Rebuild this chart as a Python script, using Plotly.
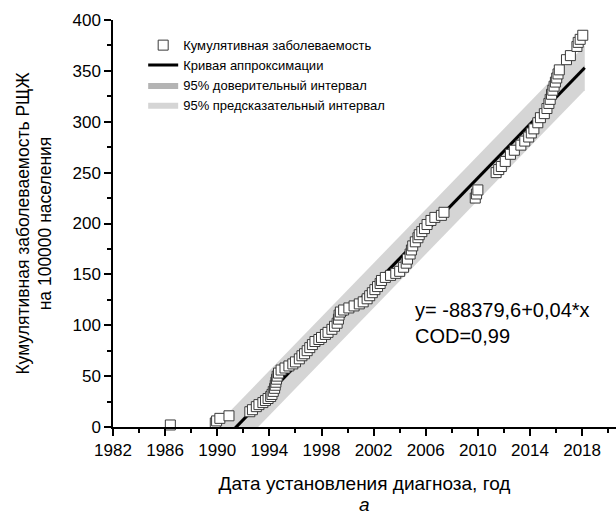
import plotly.graph_objects as go

# Cumulative incidence (per 100 000) vs. date of diagnosis
years = [
    1986.4, 1989.85, 1989.95, 1990.2, 1990.9, 1992.5, 1992.7, 1993.0, 1993.2, 1993.5,
    1993.7, 1993.9, 1994.1, 1994.2, 1994.3, 1994.4, 1994.45, 1994.5, 1994.55, 1994.6,
    1994.7, 1994.9, 1995.2, 1995.5, 1995.8, 1996.0, 1996.3, 1996.5, 1996.7, 1996.9,
    1997.1, 1997.3, 1997.5, 1997.8, 1998.0, 1998.3, 1998.5, 1998.8, 1999.0, 1999.2,
    1999.3, 1999.35, 1999.45, 1999.7, 2000.1, 2000.5, 2000.9, 2001.2, 2001.5, 2001.7,
    2001.9, 2002.1, 2002.3, 2002.5, 2002.6, 2002.9, 2003.3, 2003.7, 2004.0, 2004.3,
    2004.5, 2004.6, 2004.8, 2004.9, 2005.0, 2005.2, 2005.4, 2005.5, 2005.7, 2005.9,
    2006.1, 2006.4, 2006.7, 2007.2, 2007.4, 2009.8, 2009.9, 2010.0, 2011.4, 2011.6,
    2011.8, 2012.1, 2012.5, 2012.8, 2013.3, 2013.6, 2013.9, 2014.1, 2014.3, 2014.6,
    2014.8, 2015.1, 2015.3, 2015.45, 2015.55, 2015.65, 2015.75, 2015.85, 2015.95, 2016.05,
    2016.15, 2016.25, 2016.8, 2017.1, 2017.6, 2017.7, 2017.85, 2018.05,
]
incidence = [
    2, 4, 6, 8.5, 11, 15, 17, 20, 22, 24,
    26, 28, 30, 32, 35, 38, 41, 44, 47, 50,
    53, 56, 58, 60, 62, 64, 67, 70, 72, 75,
    78, 81, 84, 86, 88, 91, 93, 96, 99, 102,
    106, 110, 113, 115, 117, 119, 121, 123, 126, 129,
    132, 135, 138, 141, 144, 147, 149, 151, 153, 157,
    161, 165, 170, 174, 178, 182, 186, 189, 192, 195,
    199, 203, 206, 208, 211, 225, 229, 233, 250, 253,
    256, 261, 268, 272, 277, 281, 285, 289, 293, 299,
    304, 308, 313, 318, 322, 327, 331, 335, 339, 343,
    347, 351, 361, 365, 374, 378, 381, 385,
]

# fitted line and bands at the ends of the data range
fit_years = [1986.4, 2018.2]
fit_values = [-66.7, 353]
conf_lower = [-69, 350.5]
conf_upper = [-64, 355.5]
pred_lower = [-89, 331]
pred_upper = [-45, 375]

FONT = "Liberation Sans, Arial, sans-serif"

fig = go.Figure()

fig.add_trace(go.Scatter(
    x=fit_years + fit_years[::-1],
    y=pred_lower + pred_upper[::-1],
    fill='toself', mode='lines',
    fillcolor='#d5d5d5', line=dict(color='#d5d5d5', width=0),
    name='95% предсказательный интервал', legendrank=4,
))
fig.add_trace(go.Scatter(
    x=fit_years + fit_years[::-1],
    y=conf_lower + conf_upper[::-1],
    fill='toself', mode='lines',
    fillcolor='#b4b4b4', line=dict(color='#b4b4b4', width=0),
    name='95% доверительный интервал', legendrank=3,
))
fig.add_trace(go.Scatter(
    x=fit_years, y=fit_values, mode='lines',
    line=dict(color='black', width=3),
    name='Кривая аппроксимации', legendrank=2,
))
fig.add_trace(go.Scatter(
    x=years, y=incidence, mode='markers',
    marker=dict(symbol='square', size=10, color='white',
                line=dict(color='#3a3a3a', width=1)),
    cliponaxis=False,
    name='Кумулятивная заболеваемость', legendrank=1,
))

fig.add_annotation(
    x=2005.0, y=102, xref='x', yref='y', xanchor='left', yanchor='middle',
    text='y= -88379,6+0,04*x<br>COD=0,99', showarrow=False, align='left',
    font=dict(family=FONT, size=20, color='black'),
)
fig.add_annotation(
    x=0.5, y=-0.19, xref='paper', yref='paper', xanchor='center', yanchor='middle',
    text='<i>а</i>', showarrow=False,
    font=dict(family=FONT, size=19, color='black'),
)

fig.update_layout(
    width=616, height=515,
    margin=dict(l=113, r=0, t=20, b=88),
    paper_bgcolor='white', plot_bgcolor='white',
    font=dict(family=FONT, size=17, color='black'),
    showlegend=True,
    legend=dict(
        x=0.06, y=0.975, xanchor='left', yanchor='top',
        bgcolor='rgba(0,0,0,0)', font=dict(size=13),
    ),
)

fig.update_xaxes(
    range=[1982, 2020.6], tick0=1982, dtick=4,
    showline=True, linecolor='black', linewidth=1.5,
    ticks='outside', ticklen=7, tickwidth=1.5, tickcolor='black',
    minor=dict(ticks='outside', dtick=2, ticklen=4, tickwidth=1.5, tickcolor='black'),
    showgrid=False, zeroline=False,
    title=dict(text='Дата установления диагноза, год', font=dict(size=19), standoff=18),
)
fig.update_yaxes(
    range=[0, 400], dtick=50,
    showline=True, linecolor='black', linewidth=1.5,
    ticks='outside', ticklen=7, tickwidth=1.5, tickcolor='black',
    minor=dict(ticks='outside', dtick=25, ticklen=4, tickwidth=1.5, tickcolor='black'),
    showgrid=False, zeroline=False,
    title=dict(text='Кумулятивная заболеваемость РЩЖ<br>на 100000 населения',
               font=dict(size=17.5), standoff=16),
)

# the page body has a default margin; drop it so the figure fills the window
fig.write_html("out.html", config={'displayModeBar': False},
               post_script="document.body.style.margin='0';")
